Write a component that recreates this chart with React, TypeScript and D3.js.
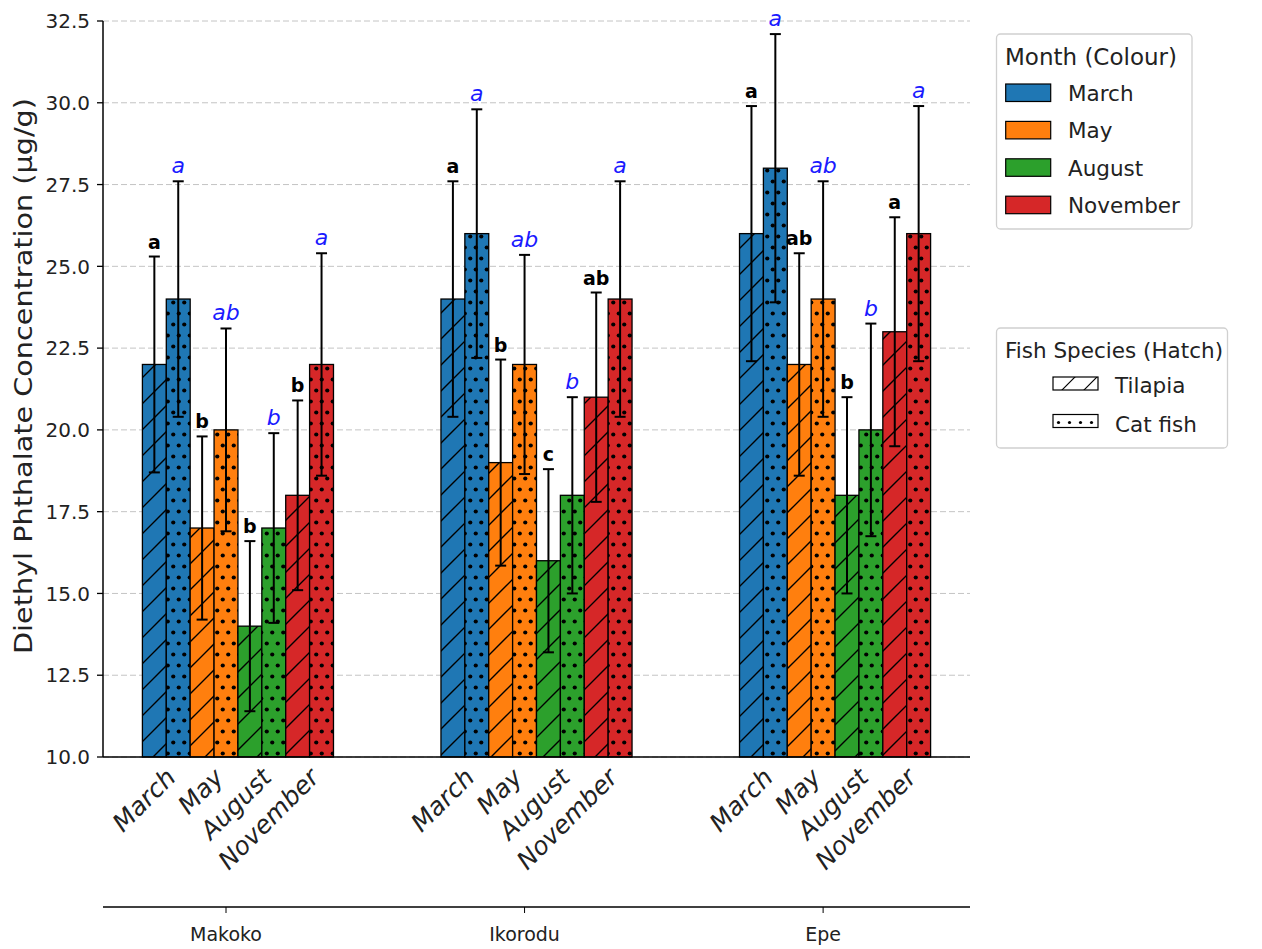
import React from "react";
import * as d3 from "d3";

const sites = ["Makoko", "Ikorodu", "Epe"];
const months = ["March", "May", "August", "November"];
const species = ["Tilapia", "Cat fish"];
const monthColors = ["#1f77b4", "#ff7f0e", "#2ca02c", "#d62728"];

// mean concentration, rows = site, cols = month
const tilapiaMeans = [
  [22, 17, 14, 18],
  [24, 19, 16, 21],
  [26, 22, 18, 23],
];
const catfishMeans = [
  [24, 20, 17, 22],
  [26, 22, 18, 24],
  [28, 24, 20, 26],
];
const tilapiaErr = [
  [3.3, 2.8, 2.6, 2.9],
  [3.6, 3.15, 2.8, 3.2],
  [3.9, 3.4, 3.0, 3.5],
];
const catfishErr = [
  [3.6, 3.1, 2.9, 3.4],
  [3.8, 3.35, 3.0, 3.6],
  [4.1, 3.6, 3.25, 3.9],
];
const tilapiaLetters = [
  ["a", "b", "b", "b"],
  ["a", "b", "c", "ab"],
  ["a", "ab", "b", "a"],
];
const catfishLetters = [
  ["a", "ab", "b", "a"],
  ["a", "ab", "b", "a"],
  ["a", "ab", "b", "a"],
];
const yTicks = [10, 12.5, 15, 17.5, 20, 22.5, 25, 27.5, 30, 32.5];

const FONT = "DejaVu Sans, sans-serif";

export default function App() {
  const width = 1262;
  const height = 949;
  const left = 103;
  const right = 970;
  const top = 21;
  const bottom = 757;
  const bw = 0.08;

  const x = d3.scaleLinear().domain([-0.452, 2.452]).range([left, right]);
  const y = d3.scaleLinear().domain([10, 32.5]).range([bottom, top]);
  const pxW = x(bw) - x(0);

  const bars: any[] = [];
  sites.forEach((site, si) => {
    months.forEach((m, mi) => {
      species.forEach((sp, k) => {
        const mean = k === 0 ? tilapiaMeans[si][mi] : catfishMeans[si][mi];
        const err = k === 0 ? tilapiaErr[si][mi] : catfishErr[si][mi];
        const letter = k === 0 ? tilapiaLetters[si][mi] : catfishLetters[si][mi];
        const x0 = si + (2 * mi + k - 4) * bw;
        bars.push({ key: `${site}-${m}-${sp}`, x0, mean, err, letter, k, mi });
      });
    });
  });

  return (
    <svg
      width={width}
      height={height}
      style={{ position: "absolute", left: 0, top: 0, background: "white" }}
      fontFamily={FONT}
    >
      <defs>
        <pattern id="hatch-slash" patternUnits="userSpaceOnUse" width="26" height="26">
          <path d="M0,26 L26,0 M-2,2 L2,-2 M24,28 L28,24" stroke="black" strokeWidth="1.4" />
        </pattern>
        <pattern id="hatch-dots" patternUnits="userSpaceOnUse" width="11" height="22">
          <circle cx="2.75" cy="5.5" r="2.1" fill="black" />
          <circle cx="8.25" cy="16.5" r="2.1" fill="black" />
        </pattern>
        <pattern id="leg-slash" patternUnits="userSpaceOnUse" width="22" height="22" x="1053" y="377">
          <path d="M0,22 L22,0 M-2,2 L2,-2 M20,24 L24,20" stroke="black" strokeWidth="1.2" />
        </pattern>
        <pattern id="leg-dots" patternUnits="userSpaceOnUse" width="11" height="22" x="1053" y="403">
          <circle cx="5.5" cy="19.5" r="1.6" fill="black" />
        </pattern>
      </defs>

      {/* grid */}
      {yTicks.map((t) => (
        <line
          key={`g${t}`}
          x1={left}
          x2={right}
          y1={y(t)}
          y2={y(t)}
          stroke="#c4c4c4"
          strokeWidth={1}
          strokeDasharray="6,3"
        />
      ))}

      {/* bars */}
      {bars.map((b) => (
        <g key={b.key}>
          <rect
            x={x(b.x0)}
            y={y(b.mean)}
            width={pxW}
            height={y(10) - y(b.mean)}
            fill={monthColors[b.mi]}
          />
          <rect
            x={x(b.x0)}
            y={y(b.mean)}
            width={pxW}
            height={y(10) - y(b.mean)}
            fill={b.k === 0 ? "url(#hatch-slash)" : "url(#hatch-dots)"}
            stroke="black"
            strokeWidth={1.3}
          />
        </g>
      ))}

      {/* error bars + letters */}
      {bars.map((b) => {
        const cx = x(b.x0 + bw / 2);
        const y1 = y(b.mean + b.err);
        const y2 = y(b.mean - b.err);
        return (
          <g key={`e${b.key}`}>
            <line x1={cx} x2={cx} y1={y1} y2={y2} stroke="black" strokeWidth={2} />
            <line x1={cx - 5.5} x2={cx + 5.5} y1={y1} y2={y1} stroke="black" strokeWidth={2} />
            <line x1={cx - 5.5} x2={cx + 5.5} y1={y2} y2={y2} stroke="black" strokeWidth={2} />
            {b.k === 0 ? (
              <text x={cx} y={y1 - 8} textAnchor="middle" fontSize={19} fontWeight="bold" fill="black">
                {b.letter}
              </text>
            ) : (
              <text x={cx} y={y1 - 8} textAnchor="middle" fontSize={22} fontStyle="italic" fill="#1a1aff">
                {b.letter}
              </text>
            )}
          </g>
        );
      })}

      {/* spines */}
      <line x1={left} x2={left} y1={top} y2={bottom} stroke="black" strokeWidth={1.5} />
      <line x1={left} x2={right} y1={bottom} y2={bottom} stroke="black" strokeWidth={1.5} />

      {/* y ticks */}
      {yTicks.map((t) => (
        <g key={`yt${t}`}>
          <line x1={left - 6} x2={left} y1={y(t)} y2={y(t)} stroke="black" strokeWidth={1.3} />
          <text x={left - 13} y={y(t)} dy="0.36em" textAnchor="end" fontSize={20} fill="#222">
            {t.toFixed(1)}
          </text>
        </g>
      ))}
      <text
        transform={`translate(32,${(top + bottom) / 2 - 13}) rotate(-90)`}
        textAnchor="middle"
        fontSize={25}
        textLength={556}
        lengthAdjust="spacingAndGlyphs"
        fill="#222"
      >
        Diethyl Phthalate Concentration (μg/g)
      </text>

      {/* month tick labels */}
      {sites.map((site, si) =>
        months.map((m, mi) => {
          const tx = x(si + (2 * mi - 3) * bw) + 11;
          const ty = bottom + 22;
          return (
            <text
              key={`ml${site}${m}`}
              x={tx}
              y={ty}
              transform={`rotate(-45,${tx},${ty})`}
              textAnchor="end"
              fontSize={25}
              fontStyle="italic"
              fill="#222"
            >
              {m}
            </text>
          );
        })
      )}

      {/* site axis */}
      <line x1={left} x2={right} y1={907} y2={907} stroke="black" strokeWidth={1.5} />
      {sites.map((site, si) => {
        const sx = x(si - bw / 2);
        return (
          <g key={`s${site}`}>
            <line x1={sx} x2={sx} y1={907} y2={913} stroke="black" strokeWidth={1} />
            <text x={sx} y={941} textAnchor="middle" fontSize={19} fill="#222">
              {site}
            </text>
          </g>
        );
      })}

      {/* legend: months */}
      <rect x={996.5} y={34} width={195.5} height={195} rx={4} fill="white" stroke="#d0d0d0" strokeWidth={1.3} />
      <text x={1005} y={65} fontSize={23} fill="#222">
        Month (Colour)
      </text>
      {months.map((m, i) => (
        <g key={`lm${m}`}>
          <rect
            x={1005.7}
            y={84 + i * 37.4}
            width={45}
            height={17.5}
            fill={monthColors[i]}
            stroke="black"
            strokeWidth={1.2}
          />
          <text x={1068} y={101 + i * 37.4} fontSize={21.5} fill="#222">
            {m}
          </text>
        </g>
      ))}

      {/* legend: species */}
      <rect x={996.5} y={328} width={231} height={120} rx={4} fill="white" stroke="#d0d0d0" strokeWidth={1.3} />
      <text x={1005} y={358} fontSize={21.5} fill="#222">
        Fish Species (Hatch)
      </text>
      {species.map((sp, i) => (
        <g key={`ls${sp}`}>
          <rect
            x={1053}
            y={377 + i * 37.5}
            width={45}
            height={13}
            fill={i === 0 ? "url(#leg-slash)" : "url(#leg-dots)"}
            stroke="black"
            strokeWidth={1.2}
          />
          <text x={1115} y={393 + i * 38.5} fontSize={21.5} fill="#222">
            {sp}
          </text>
        </g>
      ))}
    </svg>
  );
}
